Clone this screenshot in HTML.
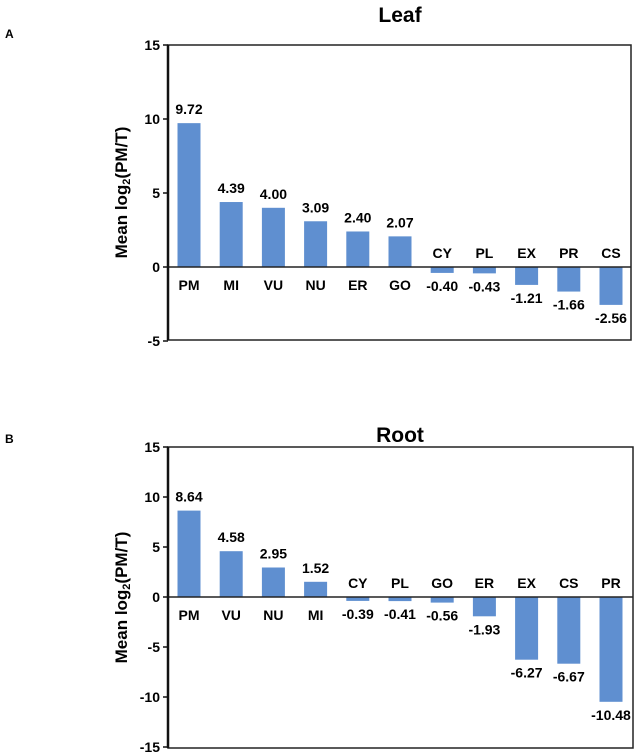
<!DOCTYPE html>
<html><head><meta charset="utf-8"><style>
body{margin:0;background:#fff;}
svg{display:block;font-family:"Liberation Sans",Arial,sans-serif;font-weight:bold;}
</style></head><body>
<svg id="chart" width="635" height="753">
<text x="5" y="38" font-size="12">A</text>
<text x="5" y="443" font-size="12">B</text>
</svg>
<script>
const leafCats=["PM","MI","VU","NU","ER","GO","CY","PL","EX","PR","CS"];
const leafVals=[9.72,4.39,4.00,3.09,2.40,2.07,-0.40,-0.43,-1.21,-1.66,-2.56];
const leafLabels=["9.72","4.39","4.00","3.09","2.40","2.07","-0.40","-0.43","-1.21","-1.66","-2.56"];
const leafTicks=[15,10,5,0,-5];
const rootCats=["PM","VU","NU","MI","CY","PL","GO","ER","EX","CS","PR"];
const rootVals=[8.64,4.58,2.95,1.52,-0.39,-0.41,-0.56,-1.93,-6.27,-6.67,-10.48];
const rootLabels=["8.64","4.58","2.95","1.52","-0.39","-0.41","-0.56","-1.93","-6.27","-6.67","-10.48"];
const rootTicks=[15,10,5,0,-5,-10,-15];
const NS="http://www.w3.org/2000/svg";
const svg=document.getElementById('chart');
function mk(tag,attrs,txt){const e=document.createElementNS(NS,tag);for(const k in attrs)e.setAttribute(k,attrs[k]);if(txt!==undefined)e.textContent=txt;svg.appendChild(e);return e;}
function panel(p){
  const y=v=>p.y0-(v*p.k);
  const x=i=>189+i*42.2;
  const t=mk('text',{x:400,y:p.titleY,'font-size':21,'text-anchor':'middle'},p.title);
  
  
  const yt=mk('text',{x:0,y:0,'font-size':17,'text-anchor':'middle',transform:`translate(127,${(p.top+p.bottom)/2}) rotate(-90)`});
  
  
  yt.innerHTML='Mean log<tspan font-size="11" dy="3">2</tspan><tspan dy="-3">(PM/T)</tspan>';
  p.vals.forEach((v,i)=>{
    const cx=x(i);
    const r=mk('rect',{x:cx-11.5,y:Math.min(y(v),p.y0),width:23,height:Math.abs(y(v)-p.y0),fill:'#5f8fd0'});
    
    
    const pos=v>=0;
    const c=mk('text',{x:cx,y:pos?p.y0+23:p.y0-9,'font-size':14,'text-anchor':'middle'},p.cats[i]);
    
    
    const l=mk('text',{x:cx,y:pos?y(v)-9:y(v)+18,'font-size':14,'text-anchor':'middle'},p.labels[i]);
    
    
  });
  const fr=mk('rect',{x:168,y:p.top,width:p.right-168,height:p.bottom-p.top,fill:'none',stroke:'#222','stroke-width':1.5});
  
  
  const zl=mk('line',{x1:168,x2:p.right,y1:p.y0,y2:p.y0,stroke:'#222','stroke-width':1.5});
  
  
  const ax=mk('line',{x1:168,x2:168,y1:p.top,y2:p.bottom,stroke:'#111','stroke-width':2.5});
  
  
  p.ticks.forEach(tv=>{
    const tk=mk('line',{x1:163,x2:168,y1:y(tv),y2:y(tv),stroke:'#111','stroke-width':1.5});
    
    
    const tl=mk('text',{x:160,y:y(tv)+5,'font-size':14,'text-anchor':'end'},String(tv));
    
    
  });
}
panel({id:'leaf',title:'Leaf',titleY:22,cats:leafCats,vals:leafVals,labels:leafLabels,ticks:leafTicks,y0:267,k:14.8,top:45,bottom:340,right:631});
panel({id:'root',title:'Root',titleY:442,cats:rootCats,vals:rootVals,labels:rootLabels,ticks:rootTicks,y0:597,k:10,top:447,bottom:748,right:633});
</script>
</body></html>
